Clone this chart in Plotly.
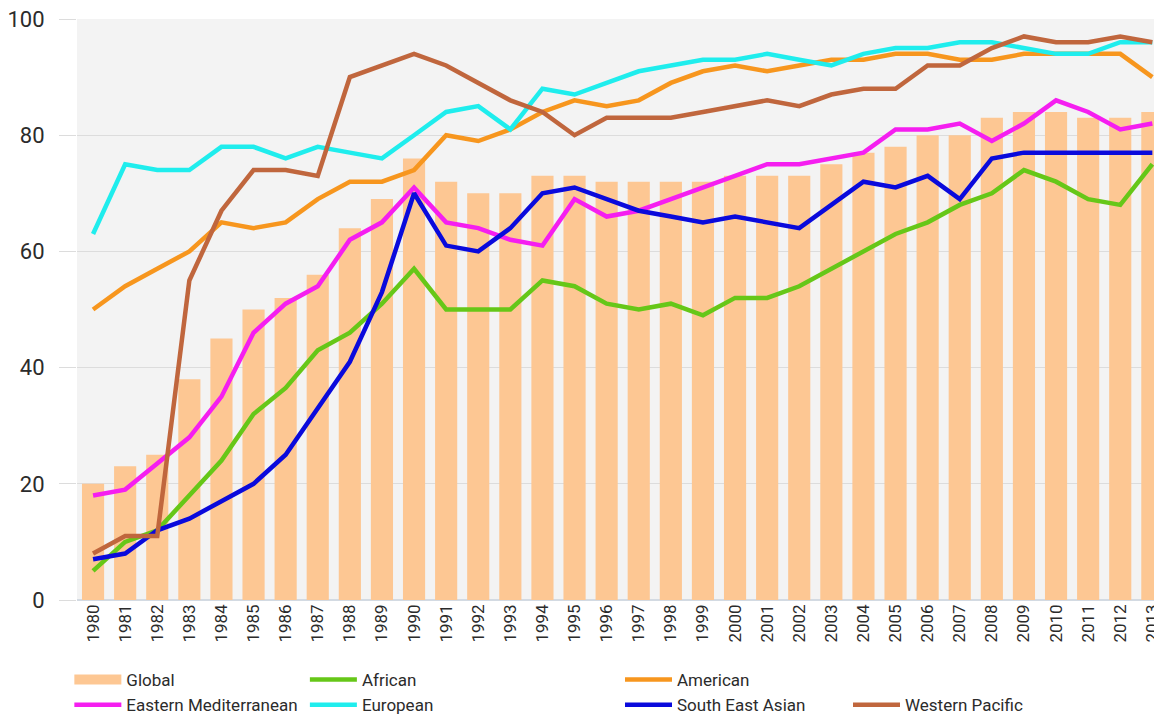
import plotly.graph_objects as go

years = [str(y) for y in range(1980, 2014)]

global_cov = [20, 23, 25, 38, 45, 50, 52, 56, 64, 69, 76, 72, 70, 70, 73, 73, 72, 72, 72, 72,
              73, 73, 73, 75, 77, 78, 80, 80, 83, 84, 84, 83, 83, 84]
african = [5, 10, 12, 18, 24, 32, 36.5, 43, 46, 51, 57, 50, 50, 50, 55, 54, 51, 50, 51, 49,
           52, 52, 54, 57, 60, 63, 65, 68, 70, 74, 72, 69, 68, 75]
american = [50, 54, 57, 60, 65, 64, 65, 69, 72, 72, 74, 80, 79, 81, 84, 86, 85, 86, 89, 91,
            92, 91, 92, 93, 93, 94, 94, 93, 93, 94, 94, 94, 94, 90]
east_med = [18, 19, 23.5, 28, 35, 46, 51, 54, 62, 65, 71, 65, 64, 62, 61, 69, 66, 67, 69, 71,
            73, 75, 75, 76, 77, 81, 81, 82, 79, 82, 86, 84, 81, 82]
european = [63, 75, 74, 74, 78, 78, 76, 78, 77, 76, 80, 84, 85, 81, 88, 87, 89, 91, 92, 93,
            93, 94, 93, 92, 94, 95, 95, 96, 96, 95, 94, 94, 96, 96]
se_asian = [7, 8, 12, 14, 17, 20, 25, 33, 41, 53, 70, 61, 60, 64, 70, 71, 69, 67, 66, 65,
            66, 65, 64, 68, 72, 71, 73, 69, 76, 77, 77, 77, 77, 77]
west_pac = [8, 11, 11, 55, 67, 74, 74, 73, 90, 92, 94, 92, 89, 86, 84, 80, 83, 83, 83, 84,
            85, 86, 85, 87, 88, 88, 92, 92, 95, 97, 96, 96, 97, 96]

line_series = [
    ("African", african, "#66C718", "legend2"),
    ("American", american, "#F7961E", "legend3"),
    ("Eastern Mediterranean", east_med, "#F51EF0", "legend"),
    ("European", european, "#1FEDED", "legend2"),
    ("South East Asian", se_asian, "#0A0ADC", "legend3"),
    ("Western Pacific", west_pac, "#C0663D", "legend4"),
]

BAR_COLOR = "#FDC793"
FONT = "Roboto, Liberation Sans, sans-serif"
TXT = "#2B2B2B"

fig = go.Figure()
fig.add_trace(go.Bar(x=years, y=global_cov, marker=dict(color=BAR_COLOR, line=dict(width=0)),
                     showlegend=False, name="Global"))
# legend swatch for Global
fig.add_trace(go.Scatter(x=[None], y=[None], mode="lines", name="Global",
                         line=dict(color=BAR_COLOR, width=12), legend="legend"))
for name, vals, color, lg in line_series:
    fig.add_trace(go.Scatter(x=years, y=vals, mode="lines", name=name,
                             line=dict(color=color, width=4.5), legend=lg))

legend_common = dict(orientation="v", yanchor="top", xanchor="left",
                     bgcolor="rgba(0,0,0,0)", font=dict(family=FONT, size=17, color=TXT),
                     itemwidth=47, tracegroupgap=0, traceorder="normal")

fig.update_layout(
    width=1162, height=722,
    margin=dict(l=69, r=0, t=11, b=130, autoexpand=False),
    paper_bgcolor="white",
    plot_bgcolor="#F3F3F3",
    bargap=0.31,
    font=dict(family=FONT, color=TXT),
    xaxis=dict(type="category", range=[-0.5, 33.55], tickangle=-90, showgrid=False,
               ticks="", tickfont=dict(family=FONT, size=17, color=TXT), fixedrange=True),
    yaxis=dict(range=[0, 100], dtick=20, gridcolor="#DCDCDC", gridwidth=1,
               zeroline=True, zerolinecolor="#D3DAE2", zerolinewidth=1.5,
               ticks="outside", ticklen=17, tickcolor="#DCDCDC", ticklabelstandoff=10,
               ticklabeloverflow="allow",
               tickfont=dict(family=FONT, size=22, color=TXT)),
    legend=dict(x=-0.007, y=-0.1067, **legend_common),
    legend2=dict(x=0.2085, y=-0.1067, **legend_common),
    legend3=dict(x=0.4968, y=-0.1067, **legend_common),
    legend4=dict(x=0.7054, y=-0.150, **legend_common),
)

fig.write_html("out.html")
